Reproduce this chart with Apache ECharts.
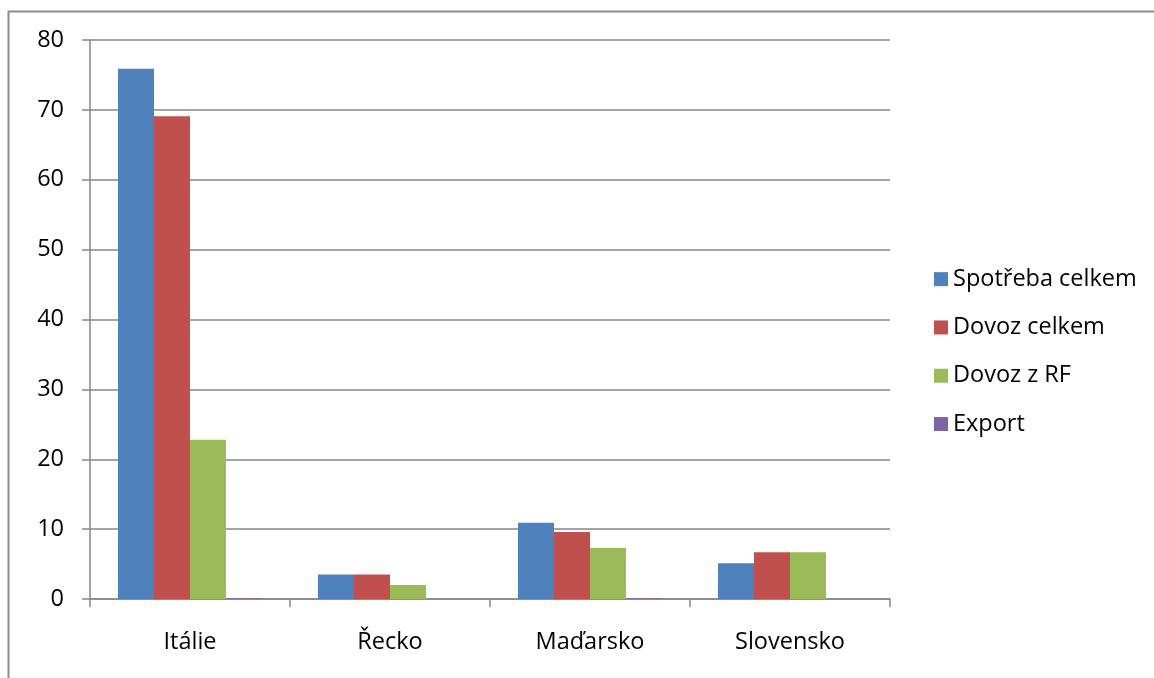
<!DOCTYPE html>
<html>
<head>
<meta charset="utf-8">
<script src="https://cdn.jsdelivr.net/npm/echarts@6/dist/echarts.min.js"></script>
<style>
  html, body { margin: 0; padding: 0; background: #fff; }
  #chart { width: 1154px; height: 678px; }
</style>
</head>
<body>
<div id="chart"></div>
<script>
// Countries on the category axis
const categories = ['Itálie', 'Řecko', 'Maďarsko', 'Slovensko'];

// Series values
const spotrebaCelkem = [75.9, 3.5, 10.9, 5.1];
const dovozCelkem = [69.1, 3.5, 9.6, 6.7];
const dovozZRF = [22.8, 2.0, 7.3, 6.7];
const exportVals = [0.1, 0, 0.1, 0];

const seriesNames = ['Spotřeba celkem', 'Dovoz celkem', 'Dovoz z RF', 'Export'];
const seriesColors = ['#4f81bd', '#c0504d', '#9bbb59', '#8064a2'];
const seriesData = [spotrebaCelkem, dovozCelkem, dovozZRF, exportVals];

const FONT = 'Open Sans';
const FS = 23.5;
const axisGray = '#868686';

const chart = echarts.init(document.getElementById('chart'));
chart.setOption({
  animation: false,
  textStyle: { fontFamily: FONT },
  graphic: [{
    type: 'rect',
    shape: { x: 8.5, y: 11.5, width: 1200, height: 720 },
    style: { fill: 'none', stroke: '#8c8c8c', lineWidth: 2 },
    silent: true,
    z: -1
  }],
  legend: {
    orient: 'vertical',
    left: 929,
    top: 261,
    itemWidth: 14,
    itemHeight: 14,
    itemGap: 22,
    icon: 'rect',
    textStyle: { fontFamily: FONT, fontSize: FS, color: '#000', lineHeight: 26.3 },
    data: seriesNames
  },
  grid: { left: 90, right: 264, top: 40, bottom: 79, containLabel: false },
  xAxis: {
    type: 'category',
    data: categories,
    axisLine: { lineStyle: { color: axisGray, width: 1.5 } },
    axisTick: { show: true, length: 8, lineStyle: { color: axisGray, width: 1.5 } },
    axisLabel: { color: '#000', fontSize: FS, fontFamily: FONT, margin: 31 },
    splitLine: { show: false }
  },
  yAxis: {
    type: 'value',
    min: 0,
    max: 80,
    interval: 10,
    axisLine: { show: true, lineStyle: { color: axisGray, width: 1.5 } },
    axisTick: { show: true, length: 8, lineStyle: { color: axisGray, width: 1.5 } },
    axisLabel: { color: '#000', fontSize: FS, fontFamily: FONT, margin: 26 },
    splitLine: { show: true, lineStyle: { color: axisGray, width: 1.5 } }
  },
  series: seriesData.map((d, i) => ({
    name: seriesNames[i],
    type: 'bar',
    data: d,
    barGap: '0%',
    barCategoryGap: '28%',
    itemStyle: { color: seriesColors[i] }
  }))
});
</script>
</body>
</html>
